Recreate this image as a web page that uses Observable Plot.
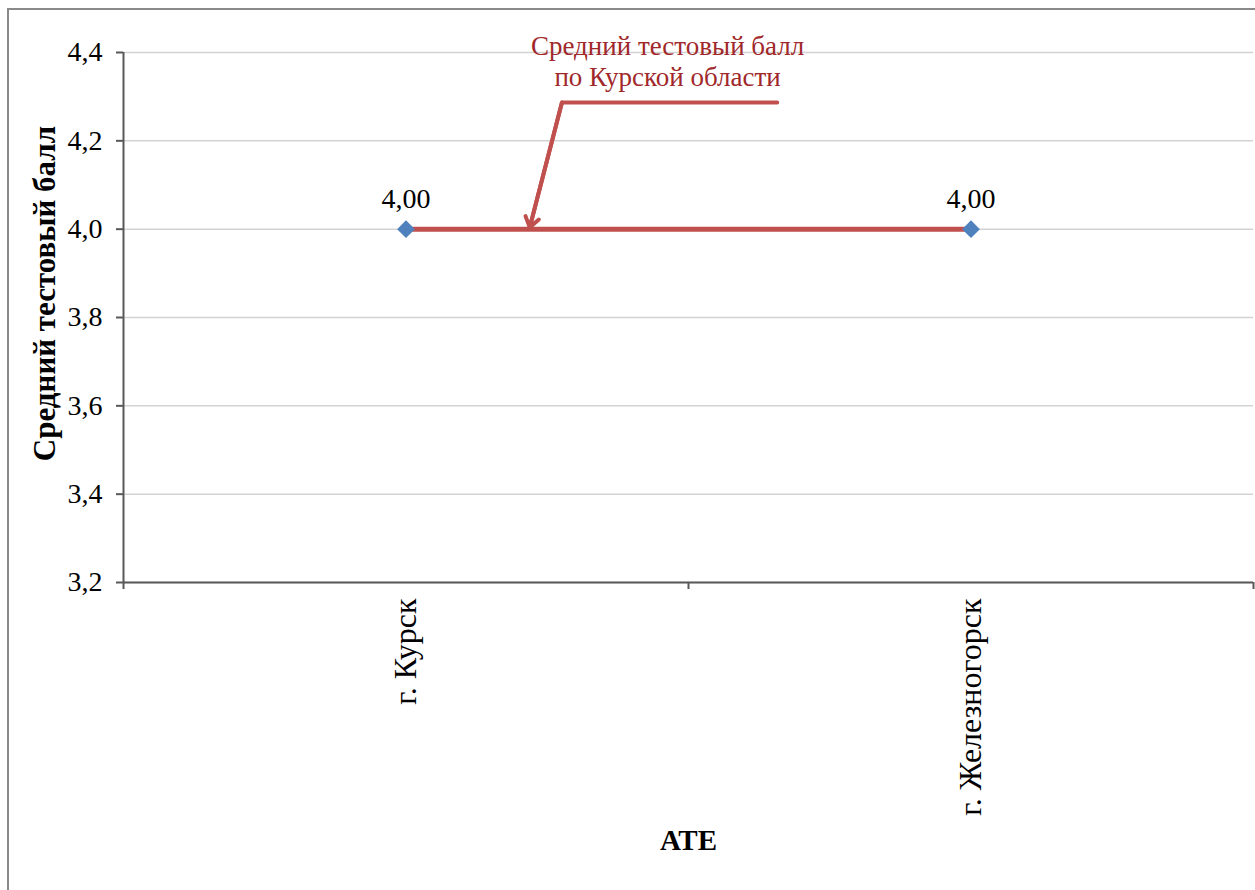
<!DOCTYPE html>
<html>
<head>
<meta charset="utf-8">
<script src="https://cdn.jsdelivr.net/npm/d3@7"></script>
<script src="https://cdn.jsdelivr.net/npm/@observablehq/plot@0.6"></script>
<style>
  html, body { margin: 0; padding: 0; background: #fff; overflow: hidden; }
  #wrap { position: relative; width: 1255px; height: 890px; }
  #border { position: absolute; left: 7px; top: 8px; width: 2000px; height: 2000px;
            border: 2px solid #8a8a8a; box-sizing: border-box; pointer-events: none; }
  svg { display: block; }
</style>
</head>
<body>
<div id="wrap"><div id="border"></div></div>
<script>
// ---- data ----
const categories = ["г. Курск", "г. Железногорск"];
const values = [4.00, 4.00];
const regionAverage = 4.0;
const yTicks = [3.2, 3.4, 3.6, 3.8, 4.0, 4.2, 4.4];
const yDomain = [3.2, 4.4];
const yTitle = "Средний тестовый балл";
const xTitle = "АТЕ";
const noteText = ["Средний тестовый балл", "по Курской области"];
// annotation anchor (x in category-slot units, y in score units)
const noteX = [0.963];
const noteY = [4.381];
const calloutX = [1.157, 0.776, 0.719];
const calloutY = [4.287, 4.287, 4.004];

const font = "'Liberation Serif', 'Times New Roman', serif";
const comma = d => d.toFixed(1).replace(".", ",");

const pts = categories.map((c, i) => ({c, x: i + 0.5, v: values[i]}));
const avg = categories.map((c, i) => ({x: i + 0.5, v: regionAverage}));
const callout = calloutX.map((x, i) => ({x, y: calloutY[i]}));

const chart = Plot.plot({
  width: 1255,
  height: 890,
  marginLeft: 123,
  marginRight: 2,
  marginTop: 52,
  marginBottom: 308,
  style: {fontFamily: font, background: "transparent", overflow: "visible"},
  x: {domain: [0, categories.length], axis: null},
  y: {domain: yDomain, axis: null},
  marks: [
    Plot.gridY(yTicks, {stroke: "#d3d3d3", strokeOpacity: 1, strokeWidth: 1.5}),
    Plot.ruleY([yDomain[0]], {stroke: "#595959", strokeWidth: 2}),
    Plot.ruleX([0], {stroke: "#595959", strokeWidth: 2}),
    Plot.axisY({ticks: yTicks, tickFormat: comma, tickSize: 7, tickPadding: 14,
                fontSize: 28, stroke: "#595959", strokeWidth: 2, fill: "#000", label: null}),
    Plot.axisX({ticks: d3.range(categories.length + 1), tickFormat: () => "", tickSize: 7,
                stroke: "#595959", strokeWidth: 2, label: null}),
    Plot.text(pts, {x: "x", y: () => yDomain[0], text: "c", rotate: -90, textAnchor: "end",
                    dy: 16, fontSize: 32, fill: "#000"}),
    Plot.line(avg, {x: "x", y: "v", stroke: "#c0504d", strokeWidth: 5}),
    Plot.dot(pts, {x: "x", y: "v", symbol: "diamond2", r: 8, fill: "#4f81bd", stroke: "none"}),
    Plot.text(pts, {x: "x", y: "v", text: d => d.v.toFixed(2).replace(".", ","),
                    dy: -30, fontSize: 28, fill: "#000"}),
    Plot.line(callout, {x: "x", y: "y", stroke: "#c0504d", strokeWidth: 4, strokeLinejoin: "miter"}),
    Plot.arrow([callout], {x1: d => d[1].x, y1: d => d[1].y, x2: d => d[2].x, y2: d => d[2].y,
                           stroke: "#c0504d", strokeWidth: 4, headLength: 4.5, headAngle: 70}),
    Plot.text(noteX, {x: d => d, y: (d, i) => noteY[i], text: () => noteText.join("\n"),
                      fontSize: 27, fill: "#a0282a", lineHeight: 1.15}),
    Plot.text([yTitle], {frameAnchor: "left", rotate: -90, dx: -78, dy: -24, textAnchor: "middle",
                         lineAnchor: "middle", fontSize: 31, fontWeight: "bold", fill: "#000"}),
    Plot.text([xTitle], {frameAnchor: "bottom", dy: 258, lineAnchor: "middle", textAnchor: "middle",
                         fontSize: 29, fontWeight: "bold", fill: "#000"})
  ]
});
document.getElementById("wrap").prepend(chart);
</script>
</body>
</html>
